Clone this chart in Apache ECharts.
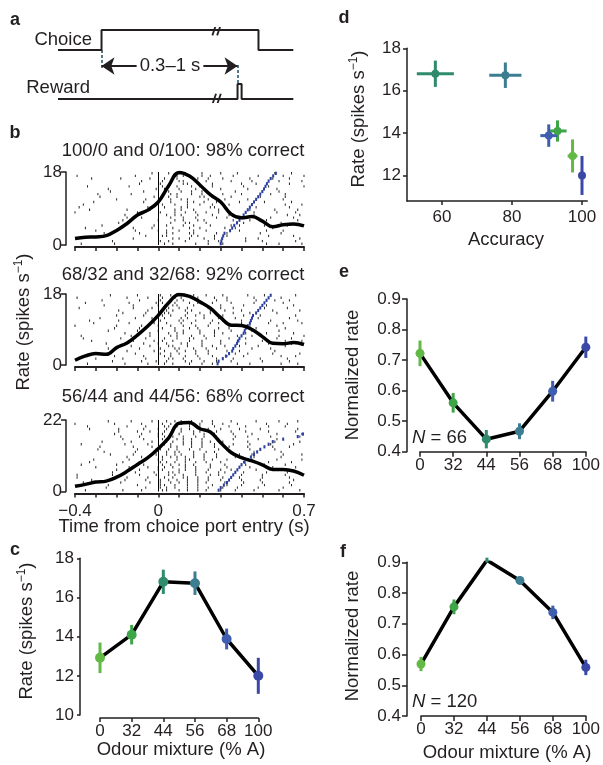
<!DOCTYPE html>
<html>
<head>
<meta charset="utf-8">
<script src="https://cdn.jsdelivr.net/npm/echarts@6/dist/echarts.min.js"></script>
<style>
  html, body { margin: 0; padding: 0; background: #fff; }
  #chart { width: 603px; height: 765px; }
</style>
</head>
<body>
<div id="chart"></div>
<script>
// ---------- shared ----------
const FONT = '"Liberation Sans", Arial, Helvetica, sans-serif';
const INK = '#231f20';

// Odour mixtures (% A) and their colours (green = A side, blue = B side)
const mixtures = ['0', '32', '44', '56', '68', '100'];
const mixColors = ['#62b946', '#3ea549', '#2f8b6c', '#3c7d92', '#3f5eb0', '#3a48a6'];

// ---------- panel a: task timing schematic (schematic seconds) ----------
const schemRange = [-0.32, 1.41];
const choiceTrace = [[-0.32, 0.703], [0, 0.703], [0, 0.973], [1.154, 0.973], [1.154, 0.703], [1.41, 0.703]];
const rewardTrace = [[-0.32, 0.04], [1.0, 0.04], [1.0, 0.243], [1.03, 0.243], [1.03, 0.04], [1.41, 0.04]];
const delayMarkers = [[[0, 0.703], [0, 0.46]], [[1.0, 0.5], [1.0, 0.243]]];
const delayArrow = [[0, 0.486], [1.0, 0.486]];
const breakMarks = [
  [[0.815, 0.90], [0.842, 1.045]], [[0.850, 0.90], [0.877, 1.045]],
  [[0.815, -0.033], [0.842, 0.112]], [[0.850, -0.033], [0.877, 0.112]]
];

// ---------- panel b: PSTHs and rasters ----------
const psthTime = [-0.4, -0.35, -0.3, -0.25, -0.2, -0.15, -0.1, -0.05, 0, 0.05, 0.1, 0.15,
                  0.2, 0.25, 0.3, 0.35, 0.4, 0.45, 0.5, 0.55, 0.6, 0.65, 0.7];
const psthEasy   = [1.6, 1.9, 2.0, 2.3, 3.6, 5.3, 7.4, 8.6, 10.6, 14.6, 17.9, 17.0, 14.8, 12.4, 10.6, 7.6, 6.7, 7.0, 5.9, 4.5, 5.0, 5.2, 4.7];
const psthMedium = [1.2, 2.3, 2.9, 2.7, 4.4, 5.6, 7.6, 9.9, 12.6, 15.8, 17.9, 17.4, 16.0, 14.4, 12.0, 10.1, 10.0, 9.0, 7.2, 5.5, 5.4, 5.7, 5.2];
const psthHard   = [1.6, 2.2, 2.9, 3.2, 4.4, 6.2, 8.3, 10.4, 13.2, 16.5, 21.0, 21.2, 19.3, 18.3, 15.0, 12.0, 10.4, 9.4, 8.2, 6.8, 6.8, 6.3, 5.0];
const rateTopB = [18, 18, 22];
const titlesB = ['100/0 and 0/100: 98% correct', '68/32 and 32/68: 92% correct', '56/44 and 44/56: 68% correct'];

// spike times per trial, in centiseconds from choice port entry (trials sorted by reward time)
const spikesEasy = [
  "-37 -21 3 7 18 24 31 52 58 69", "-22 1 5 13 24 29 42 50 66", "-12 7 10 15 22 27 42 48 68",
  "-6 2 4 16 19 27 33 53 65", "-26 -9 4 7 15 17 28 33 49 59", "-30 -11 0 4 10 17 23 39 52 60",
  "-35 -12 -3 7 15 20 32 37 55", "-27 -2 4 12 17 25 35 39 51 62", "-19 6 13 15 23 38 41 59",
  "-17 0 8 12 19 22 36 44 52 67", "-15 -8 6 12 18 28 33 47 54 65", "-16 4 8 11 19 26 34 46 62 68",
  "-40 -10 1 8 13 18 23 29 46 57 66", "-33 -15 -4 8 11 17 29 44 56 67", "-38 -5 3 11 14 25 27 47 63",
  "-36 -1 2 8 14 20 26 34 45 61 69", "-31 -7 6 14 17 22 28 39 51 64", "-20 -6 6 11 14 24 32 43 60",
  "-28 -2 5 9 20 22 35 49 61", "-29 -13 6 9 16 21 31 40 54 61", "-23 -7 5 11 16 21 37 50 58",
  "-24 -1 3 10 18 30 43 57", "-34 -14 2 9 16 20 26 41 53 70", "-9 1 12 14 26 40 47 63",
  "-8 2 10 12 18 23 35 45 58 69", "-32 -18 -4 3 9 19 24 31 44 55 63", "-39 -11 9 12 21 25 36 48 60 70",
  "-3 5 10 13 21 30 38 56 64"
];
const spikesMedium = [
  "-34 -16 -5 3 7 15 21 26 38 44 59 67", "-22 -8 -1 4 13 16 22 28 35 50 63", "-30 -17 -6 5 7 12 20 28 36 49 62",
  "-36 -21 -7 3 6 13 19 26 33 41 59 66", "-29 -11 1 6 10 18 24 37 43 55 68", "-15 -2 3 9 13 18 24 33 39 56",
  "-24 -9 1 8 10 17 23 28 45 54", "-13 -4 5 7 14 21 26 32 39 48 61", "-25 -7 0 4 11 14 21 30 42 53 64",
  "-32 -12 -2 2 7 15 21 30 38 50 61 69", "-36 -18 -6 3 9 15 17 23 34 42 57 64", "-37 -13 -4 6 9 16 22 27 38 45 58 70",
  "-16 -4 5 9 12 20 27 31 42 52 65", "-24 -10 0 8 12 20 27 35 45 58", "-21 -9 2 8 15 19 29 34 47 61",
  "-40 -20 -8 0 6 12 18 24 34 44 57", "-31 -14 -2 4 11 16 25 29 40 53 60 69", "-33 -19 -3 1 10 12 18 26 31 40 54 67",
  "-28 -11 -3 3 11 14 22 29 37 48 63", "-20 -7 2 6 13 18 22 31 41 49 66", "-17 -6 3 5 14 20 25 36 44 57",
  "-19 -5 4 7 13 16 25 32 40 55 68", "-38 -12 -3 5 10 14 24 30 36 51 62", "-26 -12 0 7 9 17 23 30 41 52 65",
  "-35 -14 -1 2 8 15 19 26 35 46 60", "-27 -9 1 9 12 19 28 33 47 56 63", "-39 -15 -5 2 8 11 19 27 33 46 59",
  "-23 -10 1 6 10 17 23 31 43 51 66"
];
const spikesHard = [
  "-35 -17 -8 2 4 10 14 19 23 30 37 46 58 68", "-25 -6 1 4 8 14 19 24 31 38 48 60", "-38 -24 -10 1 3 8 14 19 26 33 40 51 64",
  "-36 -18 -4 1 6 10 14 19 23 32 41 50 63", "-32 -16 -6 1 5 9 14 19 24 30 40 49 65", "-39 -15 -5 3 7 12 14 19 24 31 39 50 63",
  "-39 -22 -9 -1 5 8 12 18 25 29 40 50 61", "-22 -11 -2 5 7 10 18 23 29 32 41 52 62", "-20 -9 0 2 10 13 18 24 30 35 47 58",
  "-30 -14 -5 0 3 7 13 18 25 33 44 55 66", "-37 -20 -7 2 6 10 13 17 25 32 42 51 61", "-33 -17 -9 1 4 8 13 18 23 30 41 53 64",
  "-31 -14 0 2 9 13 15 22 26 33 45 57 69", "-15 -8 2 6 9 13 17 22 28 37 46 59", "-23 -12 -1 4 8 11 17 22 28 39 45 60 69",
  "-26 -11 -2 4 8 10 17 23 27 34 46 59", "-29 -10 -1 1 5 9 15 20 29 33 44 56", "-28 -12 -3 1 6 9 16 21 27 34 43 55 63",
  "-37 -16 -5 3 6 12 16 21 27 36 44 54 65", "-27 -13 -3 4 7 12 16 21 25 31 43 56 68", "-17 -7 2 5 9 12 16 21 29 36 48 57",
  "-18 -9 0 3 7 12 18 22 28 37 43 54 68", "-21 -8 0 2 6 10 17 22 27 36 45 57 69", "-19 -10 -4 3 7 11 17 20 28 35 42 53 66",
  "-33 -19 -7 0 4 11 15 20 24 30 39 49 67", "-34 -15 -6 3 5 9 15 20 27 34 42 53 61", "-40 -21 -8 2 6 11 15 20 26 31 38 52 62",
  "-24 -13 -3 4 8 11 16 21 26 35 47 58 67"
];
// reward delivery time (s) for each trial
const rewardEasy   = [0.30, 0.303, 0.307, 0.312, 0.318, 0.345, 0.355, 0.365, 0.378, 0.39, 0.40, 0.41, 0.42, 0.43,
                      0.44, 0.45, 0.46, 0.47, 0.48, 0.49, 0.50, 0.508, 0.515, 0.522, 0.53, 0.54, 0.552, 0.565];
const rewardMedium = [0.285, 0.29, 0.31, 0.325, 0.34, 0.355, 0.36, 0.37, 0.378, 0.385, 0.39, 0.40, 0.41, 0.415,
                      0.42, 0.43, 0.44, 0.445, 0.45, 0.455, 0.47, 0.48, 0.49, 0.50, 0.51, 0.52, 0.53, 0.54];
const rewardHard   = [0.29, 0.30, 0.315, 0.33, 0.34, 0.35, 0.36, 0.37, 0.38, 0.39, 0.40, 0.415, 0.43, 0.445,
                      0.46, 0.475, 0.49, 0.51, 0.53, 0.55, 0.60, 0.67, 0.695, 0.75, 0.80, 0.85, 0.90, 0.95];

// ---------- panels c, d: firing rate per mixture ----------
const rateMean = [12.92, 14.1, 16.8, 16.73, 13.88, 12.0];
const rateSem  = [0.78, 0.5, 0.62, 0.6, 0.53, 0.92];
const accuracy    = [97.3, 93.0, 58.1, 78.1, 90.5, 100];
const accuracySem = [1.4, 2.6, 5.3, 4.6, 2.4, 0.3];

// ---------- panels e, f: normalized rate per mixture ----------
const normRateE = [0.722, 0.56, 0.441, 0.467, 0.598, 0.742];
const normSemE  = [0.042, 0.032, 0.03, 0.026, 0.034, 0.035];
const normRateF = [0.569, 0.755, 0.907, 0.841, 0.737, 0.558];
const normSemF  = [0.023, 0.024, 0.008, 0.013, 0.022, 0.025];

// ---------- helpers ----------
function rasterPoints(rows) {
  const pts = [];
  rows.forEach((row, i) => row.trim().split(/\s+/).forEach(c => pts.push([Number(c) / 100, i])));
  return pts;
}
function lineStyleAxis(w) { return { show: true, onZero: false, lineStyle: { color: INK, width: w } }; }
function tick(len) { return { show: true, length: len, lineStyle: { color: INK, width: 1.5 } }; }
function labels(margin, extra) {
  return Object.assign({ color: INK, fontSize: 17, fontFamily: FONT, margin: margin }, extra || {});
}
const noSplit = { show: false };

function errorBarSeries(xi, yi, means, sems, width) {
  return {
    type: 'custom', xAxisIndex: xi, yAxisIndex: yi, silent: true, z: 3,
    data: means.map((m, i) => [i, m, sems[i]]),
    encode: { x: 0, y: 1 },
    renderItem(params, api) {
      const i = api.value(0), m = api.value(1), e = api.value(2);
      const a = api.coord([i, m - e]), b = api.coord([i, m + e]);
      return { type: 'line', shape: { x1: a[0], y1: a[1], x2: b[0], y2: b[1] },
               style: { stroke: mixColors[params.dataIndex], lineWidth: width } };
    }
  };
}
function meanLine(xi, yi, means, width) {
  return { type: 'line', xAxisIndex: xi, yAxisIndex: yi, data: means, symbol: 'none', silent: true, z: 2,
           lineStyle: { color: '#000', width: width } };
}
function meanDots(xi, yi, means, size) {
  return { type: 'scatter', xAxisIndex: xi, yAxisIndex: yi, silent: true, z: 4, symbolSize: size,
           data: means.map((m, i) => ({ value: [i, m], itemStyle: { color: mixColors[i], opacity: 1 } })) };
}

// ---------- grids ----------
const gridsB = [{ top: 172, height: 73 }, { top: 294, height: 71 }, { top: 420, height: 71.5 }];
const grid = [
  { left: 58, top: 28, width: 235.3, height: 74 },
  ...gridsB.map(g => ({ left: 75, width: 229, top: g.top, height: g.height })),
  { left: 100, top: 558.3, width: 158.3, height: 156.7 },
  { left: 407, top: 48.3, width: 180.25, height: 152.6 },
  { left: 420, top: 299, width: 167.7, height: 152.7 },
  { left: 421, top: 562.3, width: 165.7, height: 153.7 }
];

// ---------- axes ----------
const timeLabel = v => Math.abs(v + 0.4) < 1e-6 ? '\u22120.4' : Math.abs(v) < 1e-6 ? '0' : Math.abs(v - 0.7) < 1e-6 ? '0.7' : '';
const xAxis = [
  { gridIndex: 0, type: 'value', min: schemRange[0], max: schemRange[1], show: false },
  ...[0, 1, 2].map(k => ({
    gridIndex: 1 + k, type: 'value', min: -0.4, max: 0.7, interval: 0.1, offset: 2,
    axisLine: lineStyleAxis(2), axisTick: tick(4), splitLine: noSplit,
    axisLabel: labels(9, { show: k === 2, formatter: timeLabel, showMinLabel: true, showMaxLabel: true })
  })),
  { gridIndex: 4, type: 'category', data: mixtures, boundaryGap: false, offset: 3,
    axisLine: lineStyleAxis(1.5), axisTick: tick(4), splitLine: noSplit, axisLabel: labels(5, { interval: 0 }) },
  { gridIndex: 5, type: 'value', min: 50, max: 101.5,
    axisLine: lineStyleAxis(1.5), axisTick: Object.assign(tick(4), { customValues: [60, 80, 100] }),
    splitLine: noSplit, axisLabel: labels(8, { customValues: [60, 80, 100] }) },
  { gridIndex: 6, type: 'category', data: mixtures, boundaryGap: false,
    axisLine: lineStyleAxis(1.5), axisTick: tick(5), splitLine: noSplit, axisLabel: labels(5, { interval: 0 }) },
  { gridIndex: 7, type: 'category', data: mixtures, boundaryGap: false,
    axisLine: lineStyleAxis(1.5), axisTick: tick(5), splitLine: noSplit, axisLabel: labels(5, { interval: 0 }) }
];
const yAxis = [
  { gridIndex: 0, type: 'value', min: 0, max: 1, show: false },
  ...[0, 1, 2].map(k => ({
    gridIndex: 1 + k, type: 'value', min: 0, max: rateTopB[k], interval: rateTopB[k], offset: 9,
    axisLine: lineStyleAxis(1.5), axisTick: tick(5), splitLine: noSplit, axisLabel: labels(4)
  })),
  ...[0, 1, 2].map(k => ({ gridIndex: 1 + k, type: 'value', min: -0.5, max: 27.5, show: false })),
  { gridIndex: 4, type: 'value', min: 10, max: 18, interval: 2, offset: 20,
    axisLine: lineStyleAxis(1.5), axisTick: tick(3), splitLine: noSplit, axisLabel: labels(6) },
  { gridIndex: 5, type: 'value', min: 10.8, max: 18,
    axisLine: lineStyleAxis(1.5), axisTick: Object.assign(tick(4), { customValues: [12, 14, 16, 18] }),
    splitLine: noSplit, axisLabel: labels(6, { customValues: [12, 14, 16, 18] }) },
  { gridIndex: 6, type: 'value', min: 0.4, max: 0.9, interval: 0.1, offset: 13,
    axisLine: lineStyleAxis(1.5), axisTick: tick(5), splitLine: noSplit,
    axisLabel: labels(6, { formatter: v => v.toFixed(1) }) },
  { gridIndex: 7, type: 'value', min: 0.4, max: 0.9, interval: 0.1, offset: 14,
    axisLine: lineStyleAxis(1.5), axisTick: tick(5), splitLine: noSplit,
    axisLabel: labels(6, { formatter: v => v.toFixed(1) }) }
];

// ---------- series ----------
const series = [];

// panel a
series.push(
  { type: 'line', xAxisIndex: 0, yAxisIndex: 0, data: choiceTrace, symbol: 'none', silent: true,
    lineStyle: { color: INK, width: 2 } },
  { type: 'line', xAxisIndex: 0, yAxisIndex: 0, data: rewardTrace, symbol: 'none', silent: true,
    lineStyle: { color: INK, width: 2 } },
  { type: 'lines', coordinateSystem: 'cartesian2d', xAxisIndex: 0, yAxisIndex: 0, silent: true,
    data: delayMarkers.map(c => ({ coords: c })), lineStyle: { color: '#1d4a66', width: 1.5, type: [3, 2], opacity: 1 } },
  { type: 'lines', coordinateSystem: 'cartesian2d', xAxisIndex: 0, yAxisIndex: 0, silent: true,
    symbol: ['arrow', 'arrow'], symbolSize: 13,
    data: [{ coords: delayArrow }], lineStyle: { color: INK, width: 2.2, opacity: 1 } },
  { type: 'lines', coordinateSystem: 'cartesian2d', xAxisIndex: 0, yAxisIndex: 0, silent: true,
    data: breakMarks.map(c => ({ coords: c })), lineStyle: { color: INK, width: 1.8, opacity: 1 } }
);

// panel b
const psths = [psthEasy, psthMedium, psthHard];
const rasters = [spikesEasy, spikesMedium, spikesHard];
const rewards = [rewardEasy, rewardMedium, rewardHard];
[0, 1, 2].forEach(k => {
  series.push(
    { type: 'scatter', xAxisIndex: 1 + k, yAxisIndex: 4 + k, data: rasterPoints(rasters[k]),
      symbol: 'rect', symbolSize: [1, 2.4], itemStyle: { color: '#262626', opacity: 1 }, silent: true, z: 1,
      markLine: { silent: true, symbol: 'none', label: { show: false },
                  lineStyle: { color: '#000', width: 1, type: 'solid' }, data: [{ xAxis: 0 }] } },
    { type: 'scatter', xAxisIndex: 1 + k, yAxisIndex: 4 + k, data: rewards[k].map((t, i) => [t, i]),
      symbol: 'rect', symbolSize: [2, 3.2], itemStyle: { color: '#2a3f9e', opacity: 1 }, silent: true, z: 1, clip: true },
    { type: 'line', xAxisIndex: 1 + k, yAxisIndex: 1 + k, data: psths[k].map((r, i) => [psthTime[i], r]),
      smooth: 0.4, symbol: 'none', silent: true, z: 3, lineStyle: { color: '#000', width: 3.5 } }
  );
});

// panel c
series.push(meanLine(4, 7, rateMean, 3.5), errorBarSeries(4, 7, rateMean, rateSem, 3), meanDots(4, 7, rateMean, 10));

// panel d: accuracy vs rate with errors in both directions
series.push({
  type: 'custom', xAxisIndex: 5, yAxisIndex: 8, silent: true, z: 3,
  data: accuracy.map((a, i) => [a, rateMean[i], accuracySem[i], rateSem[i]]),
  encode: { x: 0, y: 1 },
  renderItem(params, api) {
    const x = api.value(0), y = api.value(1), ex = api.value(2), ey = api.value(3);
    const l = api.coord([x - ex, y]), r = api.coord([x + ex, y]);
    const t = api.coord([x, y + ey]), b = api.coord([x, y - ey]);
    const c = mixColors[params.dataIndex];
    return { type: 'group', children: [
      { type: 'line', shape: { x1: l[0], y1: l[1], x2: r[0], y2: r[1] }, style: { stroke: c, lineWidth: 3 } },
      { type: 'line', shape: { x1: t[0], y1: t[1], x2: b[0], y2: b[1] }, style: { stroke: c, lineWidth: 3 } }
    ] };
  }
}, {
  type: 'scatter', xAxisIndex: 5, yAxisIndex: 8, silent: true, z: 4, symbolSize: 8,
  data: accuracy.map((a, i) => ({ value: [a, rateMean[i]], itemStyle: { color: mixColors[i], opacity: 1 } }))
});

// panels e, f
series.push(meanLine(6, 9, normRateE, 3.5), errorBarSeries(6, 9, normRateE, normSemE, 3), meanDots(6, 9, normRateE, 9));
series.push(meanLine(7, 10, normRateF, 3.5), errorBarSeries(7, 10, normRateF, normSemF, 3), meanDots(7, 10, normRateF, 9));

// ---------- text ----------
function txt(text, x, y, o) {
  o = o || {};
  const align = o.align || 'center';
  return {
    type: 'text', x: x, y: y, z: 100, silent: true, rotation: o.rot || 0,
    style: Object.assign({
      text: text, fill: INK, fontFamily: FONT, fontSize: o.size || 18.5, fontWeight: o.weight || 'normal',
      align: align, textAlign: align, verticalAlign: 'middle', textVerticalAlign: 'middle'
    }, o.style || {})
  };
}
const richRate = {
  m: { fontSize: 18.5, fontFamily: FONT, fill: INK, color: INK, verticalAlign: 'middle', lineHeight: 22 },
  s: { fontSize: 12, fontFamily: FONT, fill: INK, color: INK, verticalAlign: 'top', lineHeight: 22 }
};
const rateName = '{m|Rate (spikes s}{s|\u22121}{m|)}';
const richN = {
  i: { fontSize: 18.5, fontFamily: FONT, fontStyle: 'italic', fill: INK, color: INK },
  n: { fontSize: 18.5, fontFamily: FONT, fill: INK, color: INK }
};
const UP = Math.PI / 2;
const graphic = [
  txt('a', 15, 20, { weight: 'bold', size: 18 }),
  txt('b', 15, 133, { weight: 'bold', size: 18 }),
  txt('c', 15, 550, { weight: 'bold', size: 18 }),
  txt('d', 344, 18, { weight: 'bold', size: 18 }),
  txt('e', 344, 272, { weight: 'bold', size: 18 }),
  txt('f', 343, 552, { weight: 'bold', size: 18 }),
  txt('Choice', 92, 40, { align: 'right' }),
  txt('Reward', 90, 88, { align: 'right' }),
  txt('0.3\u20131 s', 170, 66, { style: { backgroundColor: '#fff', padding: [0, 3] } }),
  txt(titlesB[0], 183, 151),
  txt(titlesB[1], 183, 275),
  txt(titlesB[2], 183, 397),
  txt('', 24, 322, { rot: UP, style: { text: rateName, rich: richRate } }),
  txt('Time from choice port entry (s)', 184, 527),
  txt('', 27, 631, { rot: UP, style: { text: rateName, rich: richRate } }),
  txt('Odour mixture (% A)', 181, 750),
  txt('', 359, 119, { rot: UP, style: { text: rateName, rich: richRate } }),
  txt('Accuracy', 506, 240),
  txt('Normalized rate', 353, 375, { rot: UP }),
  txt('', 412, 438, { align: 'left', style: { text: '{i|N}{n| = 66}', rich: richN } }),
  txt('Normalized rate', 353, 636, { rot: UP }),
  txt('', 412, 702, { align: 'left', style: { text: '{i|N}{n| = 120}', rich: richN } }),
  txt('Odour mixture (% A)', 507, 753)
];

const chart = echarts.init(document.getElementById('chart'), null, { width: 603, height: 765 });
chart.setOption({
  animation: false,
  backgroundColor: '#fff',
  textStyle: { fontFamily: FONT },
  grid: grid,
  xAxis: xAxis,
  yAxis: yAxis,
  series: series,
  graphic: { elements: graphic }
});
</script>
</body>
</html>
